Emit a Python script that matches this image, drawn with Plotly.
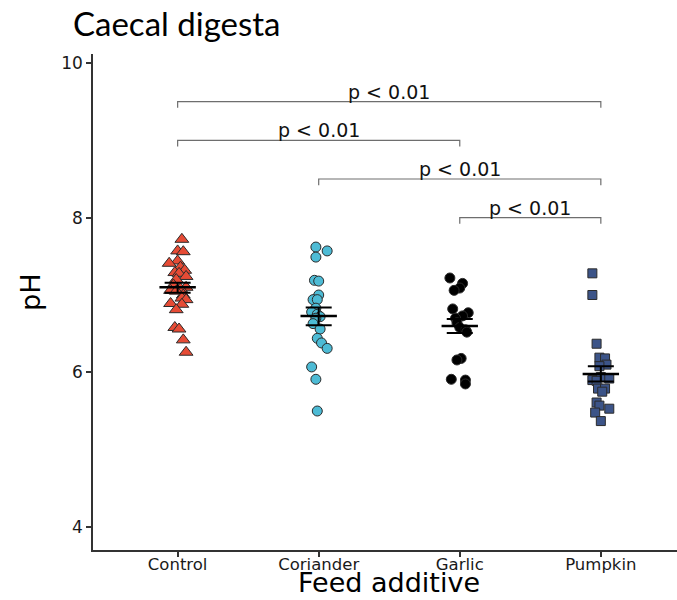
import plotly.graph_objects as go

categories = ["Control", "Coriander", "Garlic", "Pumpkin"]

control_ph = [7.72, 7.57, 7.56, 7.44, 7.41, 7.36, 7.32, 7.29, 7.28, 7.24, 7.20, 7.13, 7.10,
              7.08, 7.06, 7.05, 7.00, 6.96, 6.94, 6.89, 6.88, 6.81, 6.58, 6.56, 6.42, 6.26]
control_jit = [0.03, 0.00, 0.04, 0.00, -0.06, 0.02, 0.05, -0.02, 0.01, 0.06, -0.01, -0.03, 0.06,
               0.02, -0.05, -0.01, 0.04, 0.03, 0.06, -0.05, 0.03, -0.01, -0.02, 0.01, 0.04, 0.06]

coriander_ph = [7.62, 7.57, 7.49, 7.19, 7.18, 7.00, 6.94, 6.94, 6.83, 6.78, 6.75, 6.72, 6.70,
                6.63, 6.56, 6.44, 6.38, 6.31, 6.07, 5.91, 5.50]
coriander_jit = [-0.02, 0.06, -0.02, -0.03, 0.00, 0.00, -0.04, -0.01, -0.02, -0.05, -0.01, 0.01, -0.02,
                 -0.04, 0.01, -0.01, 0.02, 0.06, -0.05, -0.02, -0.01]

garlic_ph = [7.22, 7.15, 7.09, 7.06, 6.82, 6.77, 6.73, 6.70, 6.64, 6.58, 6.55, 6.52,
             6.18, 6.16, 5.91, 5.90, 5.85]
garlic_jit = [-0.07, 0.02, 0.00, -0.04, -0.05, 0.06, 0.02, -0.03, -0.02, 0.00, 0.04, 0.05,
              0.01, -0.02, -0.06, 0.04, 0.04]

pumpkin_ph = [7.28, 7.00, 6.37, 6.19, 6.18, 6.10, 6.08, 5.94, 5.92, 5.90, 5.89, 5.79, 5.79,
              5.75, 5.61, 5.57, 5.53, 5.48, 5.37]
pumpkin_jit = [-0.06, -0.06, -0.03, -0.01, 0.03, 0.04, -0.01, 0.00, 0.06, -0.06, -0.03, -0.02, 0.03,
               0.01, -0.03, -0.01, 0.06, -0.04, 0.00]

group_means = [7.10, 6.73, 6.60, 5.98]
group_lower = [7.03, 6.61, 6.51, 5.88]
group_upper = [7.16, 6.84, 6.69, 6.08]

bracket_from = [0, 0, 1, 2]
bracket_to = [3, 2, 3, 3]
bracket_y = [9.5, 9.0, 8.5, 8.0]
bracket_label = ["p < 0.01", "p < 0.01", "p < 0.01", "p < 0.01"]

y_ticks = [4, 6, 8, 10]

series = [
    (control_ph, control_jit, "triangle-up", "#E64B35", 12),
    (coriander_ph, coriander_jit, "circle", "#4DBBD5", 10),
    (garlic_ph, garlic_jit, "circle", "#000000", 10),
    (pumpkin_ph, pumpkin_jit, "square", "#3C5488", 9),
]

fig = go.Figure()
for i, (vals, jit, sym, col, sz) in enumerate(series):
    fig.add_trace(go.Scatter(
        x=[i + j for j in jit], y=vals, mode="markers",
        marker=dict(symbol=sym, color=col, size=sz,
                    line=dict(color="#2b2b2b", width=1)),
        showlegend=False, hoverinfo="y"))

idx = list(range(len(categories)))
fig.add_trace(go.Scatter(
    x=idx, y=group_means, mode="markers",
    marker=dict(symbol="line-ew", size=26, line=dict(color="black", width=2.5)),
    error_y=dict(type="data", symmetric=False,
                 array=[u - m for u, m in zip(group_upper, group_means)],
                 arrayminus=[m - l for m, l in zip(group_means, group_lower)],
                 color="black", thickness=2, width=13),
    showlegend=False))

tick_drop = 0.08
for a, b, y, lab in zip(bracket_from, bracket_to, bracket_y, bracket_label):
    fig.add_trace(go.Scatter(
        x=[a, a, b, b], y=[y - tick_drop, y, y, y - tick_drop], mode="lines",
        line=dict(color="#6e6e6e", width=1.2), showlegend=False, hoverinfo="skip"))
    fig.add_annotation(x=(a + b) / 2, y=y, text=lab, showarrow=False,
                       xanchor="center", yanchor="bottom", yshift=-3,
                       font=dict(family="DejaVu Sans", size=19, color="#111111"))

# Titles
fig.add_annotation(xref="paper", yref="paper", x=-0.0377, y=1.062, text="Caecal digesta",
                   showarrow=False, xanchor="left", yanchor="middle",
                   font=dict(family="Lato", size=33, color="black"))
fig.add_annotation(xref="paper", yref="paper", x=-0.108, y=0.52, text="pH",
                   showarrow=False, textangle=-90, xanchor="center", yanchor="middle",
                   font=dict(family="DejaVu Sans", size=27, color="black"))
fig.add_annotation(xref="paper", yref="paper", x=0.507, y=-0.1008, text="Feed additive",
                   showarrow=False, xanchor="center", yanchor="bottom",
                   font=dict(family="DejaVu Sans", size=27, color="black"))

fig.update_layout(
    width=677, height=600,
    margin=dict(l=93, r=0, t=54, b=50),
    plot_bgcolor="white", paper_bgcolor="white",
    xaxis=dict(range=[-0.6, 3.54], tickvals=idx, ticktext=categories,
               showgrid=False, zeroline=False, showline=True, linecolor="#333333", linewidth=1.5,
               ticks="outside", ticklen=5, tickcolor="#333333", tickwidth=1.5,
               ticklabelstandoff=-7,
               tickfont=dict(family="DejaVu Sans", size=16.5, color="#1a1a1a")),
    yaxis=dict(range=[3.703, 10.116], tickvals=y_ticks,
               showgrid=False, zeroline=False, showline=True, linecolor="#333333", linewidth=1.5,
               ticks="outside", ticklen=5, tickcolor="#333333", tickwidth=1.5,
               tickfont=dict(family="DejaVu Sans", size=17, color="#1a1a1a")),
)

fig.write_html("out.html")
